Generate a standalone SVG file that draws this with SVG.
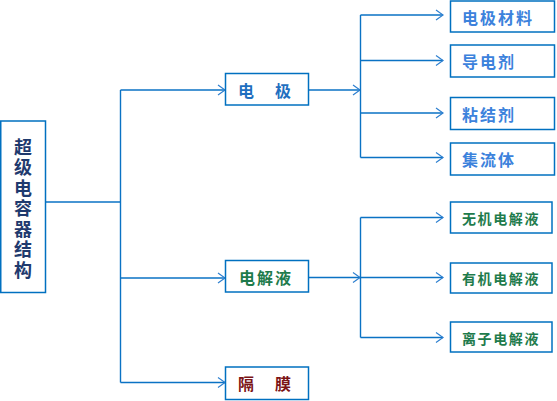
<svg xmlns="http://www.w3.org/2000/svg" width="557" height="401" viewBox="0 0 557 401">
<defs>
<marker id="arr" viewBox="-8 -6 10 12" refX="0" refY="0" markerWidth="10" markerHeight="12" markerUnits="userSpaceOnUse" orient="auto">
<path d="M-7,-5 L0,0 L-7,5" fill="none" stroke="#2F80D0" stroke-width="1.2"/>
</marker>
<style>
.box{fill:#fff;stroke:#0070C0;stroke-width:1.5}
.ln{fill:none;stroke:#0a72c4;stroke-width:1.4}
.ar{marker-end:url(#arr)}
text{font-family:"Noto Sans CJK SC","Noto Sans",sans-serif;font-weight:bold;dominant-baseline:central}
.root{fill:#1F3A6E;font-size:18px;writing-mode:vertical-rl;letter-spacing:2.5px}
.l1{font-size:16px;text-anchor:middle}
.blue{fill:#1F6FC0}
.green{fill:#1E7B4C}
.red{fill:#7B1416}
.tb{fill:#3C82DC;font-size:16px;letter-spacing:2px}
.tg{fill:#1E7B4C;font-size:14px;letter-spacing:1.6px}
</style>
</defs>
<g id="connectors">
<path class="ln" d="M45.5,202 H120.5"/>
<path class="ln" d="M120.5,90 V382.5"/>
<path class="ln ar" d="M120.5,90 H225"/>
<path class="ln ar" d="M120.5,278 H225"/>
<path class="ln ar" d="M120.5,382.5 H225"/>
<path class="ln ar" d="M309,90 H360"/>
<path class="ln" d="M360.5,15 V157.5"/>
<path class="ln ar" d="M360.5,15 H443"/>
<path class="ln ar" d="M360.5,60.5 H443"/>
<path class="ln ar" d="M360.5,113 H443"/>
<path class="ln ar" d="M360.5,157.5 H443"/>
<path class="ln ar" d="M309,277.5 H360"/>
<path class="ln" d="M360.5,217.5 V337.5"/>
<path class="ln ar" d="M360.5,217.5 H443"/>
<path class="ln ar" d="M360.5,277.5 H443"/>
<path class="ln ar" d="M360.5,337.5 H443"/>
</g>
<g id="root">
<rect class="box" x="0.75" y="121" width="44.75" height="171.5"/>
<text class="root" x="23" y="138">超级电容器结构</text>
</g>
<g id="electrode">
<rect class="box" x="225.5" y="73.5" width="83" height="31.5"/>
<text class="l1 blue" x="246 264.5 283" y="89.5">电　极</text>
</g>
<g id="electrolyte">
<rect class="box" x="225.5" y="260.5" width="83" height="31.5"/>
<text class="l1 green" x="247 265 283" y="277">电解液</text>
</g>
<g id="separator">
<rect class="box" x="225.5" y="367" width="83" height="32.5"/>
<text class="l1 red" x="246 264.5 283" y="382.5">隔　膜</text>
</g>
<g id="material">
<rect class="box" x="450.5" y="1" width="104" height="31"/>
<text class="tb" x="462" y="17">电极材料</text>
</g>
<g id="conductive">
<rect class="box" x="450.5" y="45" width="104" height="32"/>
<text class="tb" x="462" y="61">导电剂</text>
</g>
<g id="binder">
<rect class="box" x="450.5" y="97.5" width="104" height="32"/>
<text class="tb" x="462" y="113.5">粘结剂</text>
</g>
<g id="collector">
<rect class="box" x="450.5" y="143" width="104" height="32"/>
<text class="tb" x="462" y="158.5">集流体</text>
</g>
<g id="inorganic">
<rect class="box" x="450.5" y="202" width="101.5" height="31"/>
<text class="tg" x="462" y="217.5">无机电解液</text>
</g>
<g id="organic">
<rect class="box" x="450.5" y="263" width="101.5" height="30"/>
<text class="tg" x="462" y="277.5">有机电解液</text>
</g>
<g id="ionic">
<rect class="box" x="450.5" y="322" width="101.5" height="30"/>
<text class="tg" x="462" y="337.5">离子电解液</text>
</g>
</svg>
